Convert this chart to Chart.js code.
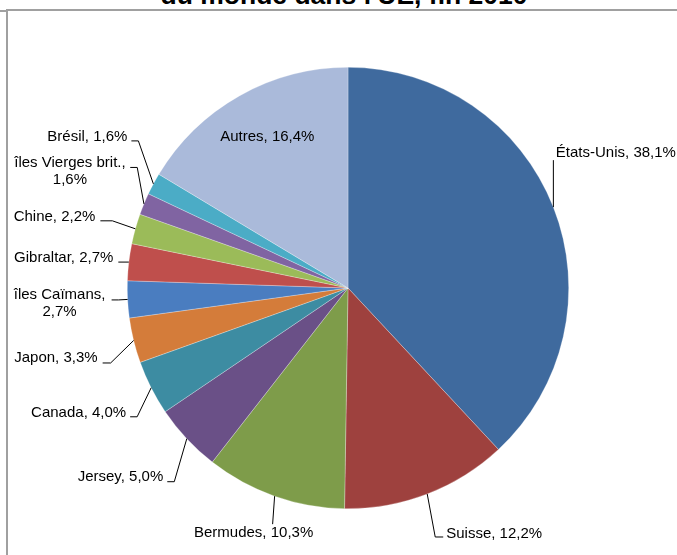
<!DOCTYPE html>
<html>
<head>
<meta charset="utf-8">
<script src="https://cdn.jsdelivr.net/npm/chart.js@4/dist/chart.umd.min.js"></script>
<style>
  html, body { margin: 0; padding: 0; background: #fff; overflow: hidden; }
  #wrap { position: relative; width: 677px; height: 555px; }
  #title {
    position: absolute; left: 0; width: 688px; top: -18px;
    text-align: center; font: bold 26.5px "Liberation Sans", Arial, sans-serif;
    line-height: 26px; color: #000; white-space: nowrap;
  }
  .frame { position: absolute; background: #a0a0a0; }
  canvas { position: absolute; left: 0; top: 0; }
</style>
</head>
<body>
<div id="wrap">
  <div id="title">du monde dans l'UE, fin 2010</div>
  <div class="frame" style="left:0;top:10px;width:7px;height:1.5px"></div>
  <div class="frame" style="left:7px;top:9px;width:670px;height:1.5px"></div>
  <div class="frame" style="left:6px;top:9px;width:2px;height:546px"></div>
  <canvas id="pie" width="677" height="555"></canvas>
</div>
<script>
// données (en % du stock)
const pays = ['États-Unis', 'Suisse', 'Bermudes', 'Jersey', 'Canada', 'Japon',
  'îles Caïmans', 'Gibraltar', 'Chine', 'îles Vierges brit.', 'Brésil', 'Autres'];
const parts = [38.1, 12.2, 10.3, 5.0, 4.0, 3.3, 2.7, 2.7, 2.2, 1.6, 1.6, 16.4];
const couleurs = ['#3F6A9E', '#9E413E', '#7E9C4A', '#6A5087', '#3D8CA2', '#D47C3A',
  '#4A7DC0', '#BF4F4C', '#9BBB59', '#8064A2', '#4BACC6', '#AABADA'];

// placement des étiquettes, relatif au point d'attache sur le bord de la part
// t = texte (dx, dy, align), k = coude, f = pied du trait, lines = retour à la ligne
const etiquettes = [
  { t: [2.5, -54, 'left'], k: [0, -47], f: [0, -47] },
  { t: [19, 40, 'left'], k: [8, 43], f: [16, 43] },
  { t: [-21, 37, 'center'], k: [-2, 28], f: [-2, 28] },
  { t: [-23.5, 38, 'right'], k: [-12.5, 43], f: [-19.5, 43] },
  { t: [-25, 25, 'right'], k: [-14, 29], f: [-21, 29] },
  { t: [-36, 17.5, 'right'], k: [-23, 22.5], f: [-31, 22.5] },
  { t: [-68, -4.5, 'center'], k: [-9, 0.5], f: [-16, 0.5], lines: true },
  { t: [-15.5, -4, 'right'], k: [0, 0], f: [-10.5, 0] },
  { t: [-40, -11.5, 'right'], k: [-23, -8], f: [-35, -8] },
  { t: [-74, -41, 'center'], k: [-6.7, -36.5], f: [-13.7, -36.5], lines: true },
  { t: [-26, -47, 'right'], k: [-15, -43], f: [-22, -43] },
  { inside: 0.77, t: [3, -3, 'center'] }
];

const fmt = v => v.toFixed(1).replace('.', ',') + '%';

const etiquettesPlugin = {
  id: 'etiquettes',
  afterDatasetsDraw(chart) {
    const ctx = chart.ctx;
    const arcs = chart.getDatasetMeta(0).data;
    ctx.save();
    ctx.font = '15px "Liberation Sans", Arial, sans-serif';
    ctx.fillStyle = '#000';
    ctx.strokeStyle = '#000';
    ctx.lineWidth = 1;
    ctx.textBaseline = 'middle';
    arcs.forEach((arc, i) => {
      const p = arc.getProps(['x', 'y', 'startAngle', 'endAngle', 'outerRadius'], true);
      const mid = (p.startAngle + p.endAngle) / 2;
      const e = etiquettes[i];
      const r = e.inside ? p.outerRadius * e.inside : p.outerRadius;
      const ax = p.x + Math.cos(mid) * r;
      const ay = p.y + Math.sin(mid) * r;
      if (!e.inside) {
        ctx.beginPath();
        ctx.moveTo(ax, ay);
        ctx.lineTo(ax + e.k[0], ay + e.k[1]);
        ctx.lineTo(ax + e.f[0], ay + e.f[1]);
        ctx.stroke();
      }
      ctx.textAlign = e.t[2];
      const tx = ax + e.t[0], ty = ay + e.t[1];
      if (e.lines) {
        ctx.fillText(pays[i] + ',', tx, ty);
        ctx.fillText(fmt(parts[i]), tx, ty + 17);
      } else {
        ctx.fillText(pays[i] + ', ' + fmt(parts[i]), tx, ty);
      }
    });
    ctx.restore();
  }
};

new Chart(document.getElementById('pie'), {
  type: 'pie',
  data: {
    labels: pays,
    datasets: [{
      data: parts,
      backgroundColor: couleurs,
      borderColor: 'rgba(255,255,255,0.45)',
      borderWidth: 0.6
    }]
  },
  options: {
    responsive: false,
    animation: false,
    layout: { padding: { left: 127, right: 108, top: 67, bottom: 46 } },
    plugins: { legend: { display: false }, tooltip: { enabled: false }, title: { display: false } }
  },
  plugins: [etiquettesPlugin]
});
</script>
</body>
</html>
